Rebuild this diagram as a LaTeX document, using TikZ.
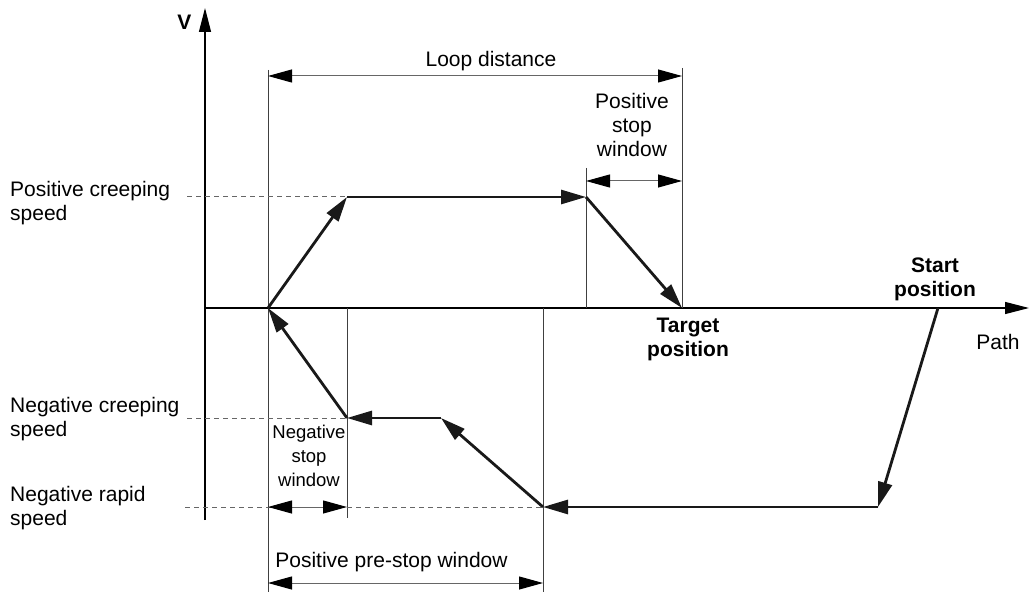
\documentclass[tikz,border=0pt]{standalone}
\usepackage{fontspec}
\setmainfont{Liberation Sans}
\usetikzlibrary{arrows.meta}
\begin{document}
\begin{tikzpicture}[x=1pt,y=-1pt,
  axis/.style={line width=1.3pt, draw=black, -{Triangle[length=24pt,width=12pt]}},
  refline/.style={line width=1pt, draw=black!75},
  dashref/.style={line width=1pt, draw=black!60, dash pattern=on 5pt off 4pt},
  dimline/.style={line width=1pt, draw=black!60,
    {Triangle[length=24pt,width=13pt,color=black]}-{Triangle[length=24pt,width=13pt,color=black]}},
  profile/.style={line width=2.8pt, draw=black!90, -{Triangle[length=25pt,width=14pt]}},
  lbl/.style={inner sep=0pt, font=\fontsize{21}{24}\selectfont},
  blbl/.style={inner sep=0pt, font=\bfseries\fontsize{21}{24}\selectfont},
  slbl/.style={inner sep=0pt, font=\fontsize{18.5}{24}\selectfont}]
\useasboundingbox (0,0) rectangle (1031,596);

% axes
\coordinate (vbot) at (205,520);
\coordinate (vtop) at (205,8);
\coordinate (hleft) at (205,308);
\coordinate (hright) at (1029,308);
\draw[axis] (vbot) -- (vtop);
\draw[axis] (hleft) -- (hright);

% profile points
\coordinate (O) at (268,308);
\coordinate (P1) at (347,197);
\coordinate (P2) at (586,197);
\coordinate (T) at (682,308);
\coordinate (S) at (938,308);
\coordinate (N1) at (878,507);
\coordinate (N2) at (543,507);
\coordinate (N3) at (441,418);
\coordinate (N4) at (347,418);

% reference verticals
\coordinate (r1a) at (268,70);  \coordinate (r1b) at (268,592);
\coordinate (r2a) at (682,68);
\coordinate (r3a) at (586,168);
\coordinate (r4a) at (347,308); \coordinate (r4b) at (347,518);
\coordinate (r5a) at (543,308); \coordinate (r5b) at (543,592);
\draw[refline] (r1a) -- (r1b);
\draw[refline] (r2a) -- (T);
\draw[refline] (r3a) -- (P2 |- T);
\draw[refline] (r4a) -- (r4b);
\draw[refline] (r5a) -- (r5b);

% dashed speed levels
\coordinate (d1) at (187,197);
\coordinate (d2) at (187,418);
\coordinate (d3) at (185,507);
\draw[dashref] (d1) -- (P1);
\draw[dashref] (d2) -- (N4);
\draw[dashref] (d3) -- (N2);

% dimension arrows
\coordinate (ld1) at (268,76);  \coordinate (ld2) at (682,76);
\coordinate (ps1) at (586,181); \coordinate (ps2) at (682,181);
\coordinate (ns1) at (268,507); \coordinate (ns2) at (347,507);
\coordinate (pp1) at (268,583); \coordinate (pp2) at (543,583);
\draw[dimline] (ld1) -- (ld2);
\draw[dimline] (ps1) -- (ps2);
\draw[dimline] (ns1) -- (ns2);
\draw[dimline] (pp1) -- (pp2);

% velocity profile
\draw[profile] (O) -- (P1);
\draw[profile] (P1) -- (P2);
\draw[profile] (P2) -- (T);
\draw[profile] (S) -- (N1);
\draw[profile] (N1) -- (N2);
\draw[profile] (N2) -- (N3);
\draw[profile] (N3) -- (N4);
\draw[profile] (N4) -- (O);

% labels
\node[blbl] (lv) at (184.5,22.5) {V};
\node[lbl, anchor=base] (lloop) at (491,67) {Loop distance};
\node[lbl, anchor=north, align=center] (lpsw) at (632,93) {Positive\\stop\\window};
\node[lbl, anchor=west, align=left] (lpcs) at (10,203) {Positive creeping\\speed};
\node[lbl, anchor=west, align=left] (lncs) at (10,419) {Negative creeping\\speed};
\node[lbl, anchor=west, align=left] (lnrs) at (10,508) {Negative rapid\\speed};
\node[slbl, anchor=north, align=center] (lnsw) at (309,425) {Negative\\stop\\window};
\node[lbl, anchor=base] (lpps) at (391.5,567) {Positive pre-stop window};
\node[blbl, anchor=north, align=center] (lsp) at (935,258) {Start\\position};
\node[blbl, anchor=north, align=center] (ltp) at (688,318) {Target\\position};
\node[lbl, anchor=base] (lpath) at (998,349) {Path};
\end{tikzpicture}
\end{document}
